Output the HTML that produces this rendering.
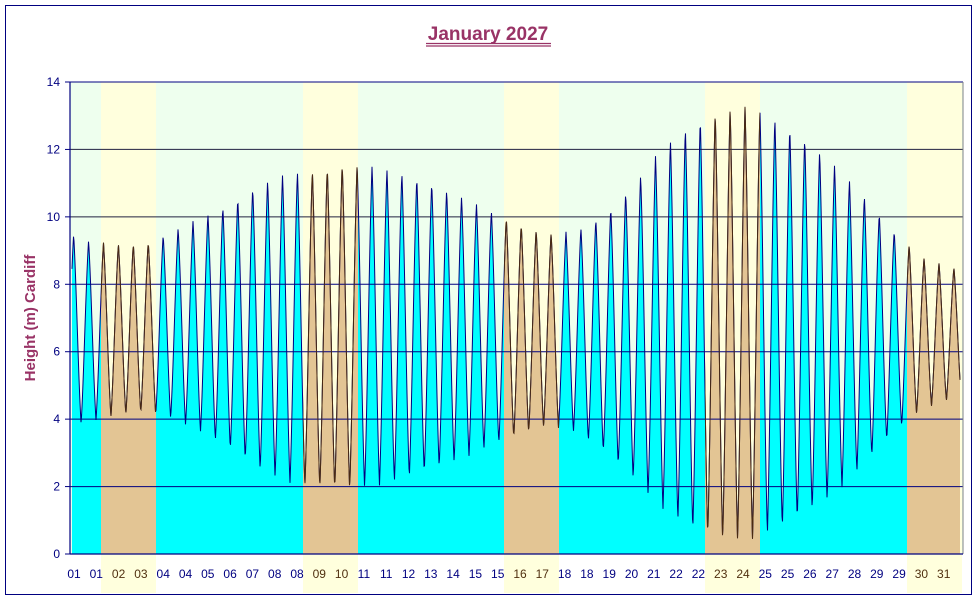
<!DOCTYPE html>
<html><head><meta charset="utf-8"><style>
body{margin:0;background:#fff;}
svg{display:block;font-family:"Liberation Sans",Arial,sans-serif;}
</style></head><body>
<svg id="s" width="977" height="600" viewBox="0 0 977 600" xmlns="http://www.w3.org/2000/svg">
<rect x="0" y="0" width="977" height="600" fill="#fff"/>
<rect x="5.5" y="5.5" width="966" height="589" fill="none" stroke="#000080" stroke-width="1"/>
<text x="488" y="40" text-anchor="middle" font-size="19" font-weight="bold" fill="#993366">January 2027</text>
<line x1="426" y1="43.5" x2="551" y2="43.5" stroke="#993366" stroke-width="1.2"/>
<line x1="426" y1="46" x2="551" y2="46" stroke="#993366" stroke-width="1.2"/>
<text transform="translate(35,318) rotate(-90)" text-anchor="middle" font-size="15" font-weight="bold" fill="#993366">Height (m) Cardiff</text>
<g id="g"></g>
</svg>
<script>
var NS="http://www.w3.org/2000/svg",g=document.getElementById('g');
function el(n,a){var e=document.createElementNS(NS,n);for(var k in a)e.setAttribute(k,a[k]);g.appendChild(e);return e;}
var L=70,R=963,T=82,B=554;
function Y(v){return B-(B-T)*v/14;}
var bands=[101,303,504,705,907],BW=55;
el('rect',{x:L,y:T,width:R-L,height:B-T,fill:'#EEFFEE'});
var defs=el('defs',{});
var cp=document.createElementNS(NS,'clipPath');cp.setAttribute('id','we');defs.appendChild(cp);
bands.forEach(function(b){
  el('rect',{x:b,y:T,width:Math.min(BW,R-b),height:593-T,fill:'#FFFFDD'});
  var r=document.createElementNS(NS,'rect');r.setAttribute('x',b);r.setAttribute('y',T);r.setAttribute('width',Math.min(BW,R-b));r.setAttribute('height',B-T);cp.appendChild(r);
});
var cp2=document.createElementNS(NS,'clipPath');cp2.setAttribute('id','pl');defs.appendChild(cp2);
var r2=document.createElementNS(NS,'rect');r2.setAttribute('x',L);r2.setAttribute('y',T);r2.setAttribute('width',R-L);r2.setAttribute('height',B-T);cp2.appendChild(r2);
var H=[9.7,9.3,9.2,9.2,9.6,10.0,10.4,11.0,11.3,11.4,11.6,11.5,11.3,11.0,10.6,10.2,9.8,9.5,9.6,10.1,11.0,12.1,12.8,13.2,13.3,12.9,12.3,11.5,10.6,9.6,8.8,8.5];
var Lo=[3.7,3.9,4.1,4.2,4.0,3.6,3.1,2.5,2.1,1.95,1.9,2.0,2.2,2.5,2.8,3.2,3.5,3.8,3.6,3.0,2.2,1.3,0.7,0.4,0.4,0.7,1.2,1.8,2.7,3.6,4.3,4.6];
function env(a,t){var i=Math.floor(t);if(i<0)i=0;if(i>=a.length-1)return a[a.length-1];var f=t-i;return a[i]*(1-f)+a[i+1]*f;}
var x0=72.2,dw=28.83,P=0.5175,t0=0.05;
var pts=[];
for(var x=72;x<=960;x+=0.5){var t=(x-x0)/dw;var h=env(H,t+0.5),l=env(Lo,t+0.5);
 var ph=((t-t0)/P)%1;if(ph<0)ph+=1;var tri=1-4*Math.abs(ph-0.5);tri=-tri; // peak at ph=0
 var c=Math.cos(2*Math.PI*ph);var w=0.35*c+0.65*tri;
 var v=(h+l)/2+(h-l)/2*w;pts.push(x.toFixed(1)+','+Y(v).toFixed(1));}
var line='M'+pts.join('L'),fill=line+'L960,'+B+'L72,'+B+'Z';
el('path',{d:fill,fill:'#00FFFF','clip-path':'url(#pl)'});
el('path',{d:fill,fill:'#E3C594','clip-path':'url(#we)'});
for(var v=2;v<=14;v+=2){el('line',{x1:L,x2:R,y1:Y(v),y2:Y(v),stroke:v==10||v==12?'#202040':'#000080','stroke-width':1});}
el('path',{d:line,fill:'none',stroke:'#000080','stroke-width':1,'clip-path':'url(#pl)'});
el('path',{d:line,fill:'none',stroke:'#4A2A10','stroke-width':1,'clip-path':'url(#we)'});
el('line',{x1:R,x2:R,y1:T,y2:B,stroke:'#808080','stroke-width':1});
el('line',{x1:L,x2:L,y1:T,y2:B,stroke:'#000080','stroke-width':1.2});
el('line',{x1:L,x2:R,y1:B,y2:B,stroke:'#000080','stroke-width':1.2});
for(var v=0;v<=14;v+=2){el('line',{x1:L-5,x2:L,y1:Y(v),y2:Y(v),stroke:'#000080'});var tx=el('text',{x:L-10,y:Y(v)+4,'text-anchor':'end','font-size':12,fill:'#000080'});tx.textContent=v;}
var labs="01 01 02 03 04 04 05 06 07 08 08 09 10 11 11 12 13 14 15 15 16 17 18 18 19 20 21 22 22 23 24 25 25 26 27 28 29 29 30 31".split(' ');
labs.forEach(function(s,i){var xx=74+i*22.3;var inW=bands.some(function(b){return xx>=b&&xx<=b+BW;});var tx=el('text',{x:xx,y:578,'text-anchor':'middle','font-size':12,fill:inW?'#503010':'#000080'});tx.textContent=s;});
</script>
</body></html>
